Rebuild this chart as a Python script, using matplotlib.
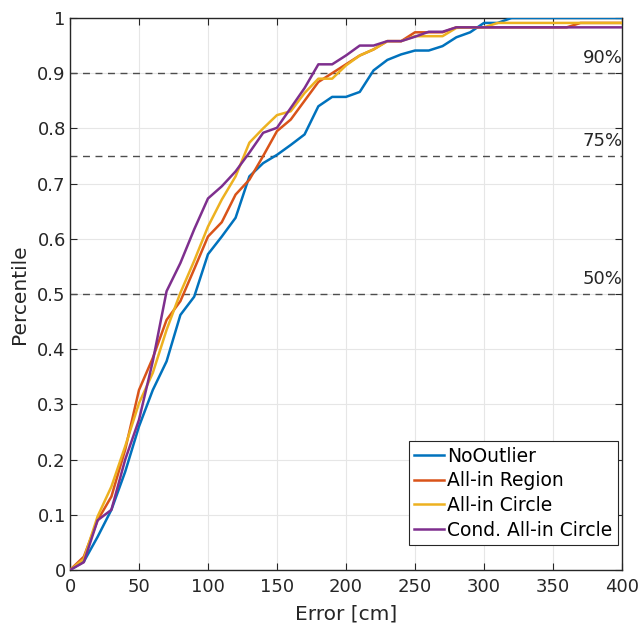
import numpy as np
import matplotlib.pyplot as plt

# error grid [cm], one sample every 10 cm
err = np.arange(0, 410, 10)

no_outlier = [0, 0.015, 0.06, 0.109, 0.178, 0.26, 0.326, 0.378, 0.462, 0.495,
              0.572, 0.604, 0.638, 0.713, 0.737, 0.752, 0.77, 0.789, 0.84, 0.857,
              0.857, 0.866, 0.905, 0.924, 0.934, 0.941, 0.941, 0.949, 0.965, 0.974,
              0.991, 0.991, 1.0, 1.0, 1.0, 1.0, 1.0, 1.0, 1.0, 1.0, 1.0]
allin_region = [0, 0.024, 0.09, 0.133, 0.218, 0.326, 0.384, 0.453, 0.487, 0.545,
                0.604, 0.63, 0.68, 0.707, 0.75, 0.795, 0.816, 0.85, 0.884, 0.9,
                0.916, 0.932, 0.943, 0.958, 0.958, 0.974, 0.974, 0.974, 0.983, 0.983,
                0.983, 0.983, 0.983, 0.983, 0.983, 0.983, 0.983, 0.991, 0.991, 0.991, 0.991]
allin_circle = [0, 0.02, 0.097, 0.151, 0.224, 0.302, 0.357, 0.435, 0.502, 0.56,
                0.622, 0.671, 0.713, 0.774, 0.8, 0.824, 0.831, 0.864, 0.89, 0.89,
                0.914, 0.932, 0.943, 0.958, 0.958, 0.967, 0.967, 0.967, 0.982, 0.983,
                0.983, 0.991, 0.991, 0.991, 0.991, 0.991, 0.991, 0.991, 0.991, 0.991, 0.991]
cond_circle = [0, 0.014, 0.09, 0.109, 0.2, 0.272, 0.378, 0.505, 0.556, 0.617,
               0.673, 0.695, 0.722, 0.756, 0.792, 0.801, 0.837, 0.873, 0.916, 0.916,
               0.932, 0.95, 0.95, 0.958, 0.958, 0.966, 0.975, 0.975, 0.983, 0.983,
               0.983, 0.983, 0.983, 0.983, 0.983, 0.983, 0.983, 0.983, 0.983, 0.983, 0.983]

series = [("NoOutlier", no_outlier, (0, 0.447, 0.741)),
          ("All-in Region", allin_region, (0.85, 0.325, 0.098)),
          ("All-in Circle", allin_circle, (0.929, 0.694, 0.125)),
          ("Cond. All-in Circle", cond_circle, (0.494, 0.184, 0.556))]

levels = [0.5, 0.75, 0.9]
level_labels = ["50%", "75%", "90%"]

txt_col = (0.15, 0.15, 0.15)

plt.rcParams['font.family'] = ['DejaVu Sans']
fig = plt.figure(figsize=(6.44, 6.28), dpi=100)
ax = fig.add_axes([0.1087, 0.0924, 0.857, 0.879])

for name, vals, col in series:
    ax.plot(err, vals, color=col, lw=1.8, label=name, zorder=3)

for lv, txt in zip(levels, level_labels):
    ax.axhline(lv, color=(0.3, 0.3, 0.3), ls=(0, (5, 4)), lw=1.0, zorder=2)
    ax.text(400.5, lv + 0.011, txt, ha='right', va='bottom', fontsize=13, color=txt_col)

ax.set_xlim(0, 400)
ax.set_ylim(0, 1)
ax.set_xticks(np.arange(0, 401, 50))
ax.set_yticks(np.arange(0, 1.01, 0.1))
ax.set_yticklabels(["0", "0.1", "0.2", "0.3", "0.4", "0.5", "0.6", "0.7", "0.8", "0.9", "1"])
ax.grid(True, color=(0.9, 0.9, 0.9), lw=0.8)
ax.set_axisbelow(True)
ax.tick_params(direction='in', top=True, right=True, length=5, labelsize=13,
               colors=txt_col)
ax.tick_params(axis='x', pad=6)
ax.tick_params(axis='y', pad=3)
for s in ax.spines.values():
    s.set_color(txt_col)
    s.set_linewidth(1.0)

ax.set_xlabel("Error [cm]", fontsize=14.5, color=txt_col, labelpad=6)
ax.set_ylabel("Percentile", fontsize=14.5, color=txt_col, labelpad=6)

leg = ax.legend(loc='lower right', bbox_to_anchor=(0.993, 0.045), fontsize=13.5,
                fancybox=False, framealpha=1, edgecolor=txt_col,
                handlelength=1.6, handletextpad=0.15, borderpad=0.3, labelspacing=0.3,
                borderaxespad=0)
leg.get_frame().set_linewidth(0.8)

fig.savefig("out.png", dpi=100)
